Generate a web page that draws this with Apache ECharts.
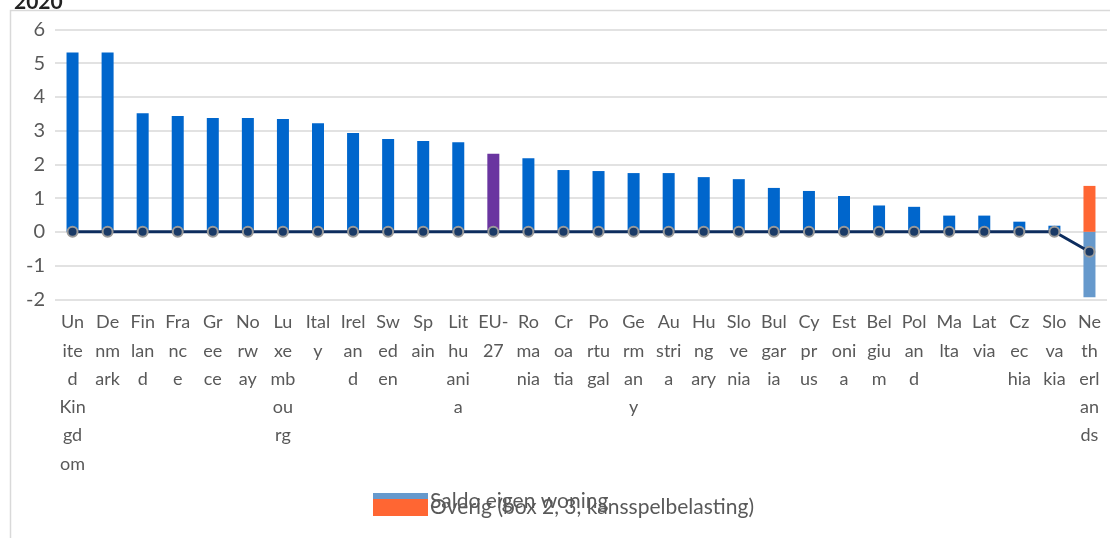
<!doctype html>
<html lang="nl">
<head>
<meta charset="UTF-8">
<title>2020</title>
<script src="https://cdn.jsdelivr.net/npm/echarts@6/dist/echarts.min.js"></script>
<style>
  html, body { margin: 0; padding: 0; background: #fff; }
  #main { width: 1110px; height: 538px; }
</style>
</head>
<body>
<div id="main"></div>
<script type="text/javascript">
// landen (categorieen)
var countries = ['United Kingdom', 'Denmark', 'Finland', 'France', 'Greece', 'Norway', 'Luxembourg', 'Italy',
    'Ireland', 'Sweden', 'Spain', 'Lithuania', 'EU-27', 'Romania', 'Croatia', 'Portugal', 'Germany', 'Austria',
    'Hungary', 'Slovenia', 'Bulgaria', 'Cyprus', 'Estonia', 'Belgium', 'Poland', 'Malta', 'Latvia', 'Czechia',
    'Slovakia', 'Netherlands'];

// asetiketten zoals ze in het plaatje afgebroken zijn
var tickLabels = ['Un\nite\nd\nKin\ngd\nom', 'De\nnm\nark', 'Fin\nlan\nd', 'Fra\nnc\ne', 'Gr\nee\nce', 'No\nrw\nay',
    'Lu\nxe\nmb\nou\nrg', 'Ital\ny', 'Irel\nan\nd', 'Sw\ned\nen', 'Sp\nain', 'Lit\nhu\nani\na', 'EU-\n27',
    'Ro\nma\nnia', 'Cr\noa\ntia', 'Po\nrtu\ngal', 'Ge\nrm\nan\ny', 'Au\nstri\na', 'Hu\nng\nary', 'Slo\nve\nnia',
    'Bul\ngar\nia', 'Cy\npr\nus', 'Est\noni\na', 'Bel\ngiu\nm', 'Pol\nan\nd', 'Ma\nlta', 'Lat\nvia', 'Cz\nec\nhia',
    'Slo\nva\nkia', 'Ne\nth\nerl\nan\nds'];

// totaal per land (blauwe staven)
var totalValues = [5.31, 5.31, 3.51, 3.43, 3.37, 3.37, 3.34, 3.22, 2.93, 2.75, 2.69, 2.65, 2.31, 2.18, 1.83, 1.80,
    1.74, 1.74, 1.62, 1.56, 1.30, 1.21, 1.06, 0.78, 0.74, 0.48, 0.48, 0.30, 0.18, null];

// Nederland opgesplitst
var saldoValues = [null, null, null, null, null, null, null, null, null, null, null, null, null, null, null, null,
    null, null, null, null, null, null, null, null, null, null, null, null, null, -1.94];
var overigValues = [null, null, null, null, null, null, null, null, null, null, null, null, null, null, null, null,
    null, null, null, null, null, null, null, null, null, null, null, null, null, 1.36];

// lijn
var lineValues = [0, 0, 0, 0, 0, 0, 0, 0, 0, 0, 0, 0, 0, 0, 0, 0,
    0, 0, 0, 0, 0, 0, 0, 0, 0, 0, 0, 0, 0, -0.59];

var yTicks = { min: -2, max: 6, interval: 1 };

var myChart = echarts.init(document.getElementById('main'));

var FONT = 'Lato, "Open Sans", sans-serif';
var TXT = '#595959';

var totalData = totalValues.map(function (v, i) {
    if (countries[i] === 'EU-27') {
        return { value: v, itemStyle: { color: '#6a35a0' } };
    }
    return v;
});

var option = {
    animation: false,
    textStyle: { fontFamily: FONT },
    title: {
        text: '2020',
        left: 9,
        top: -13,
        textStyle: { fontSize: 21, fontWeight: 'bold', color: '#222', fontFamily: FONT }
    },
    graphic: [{
        type: 'rect',
        shape: { x: 10.5, y: 10.5, width: 1200, height: 700 },
        style: { fill: null, stroke: '#d9d9d9', lineWidth: 1.5 },
        z: -1
    }],
    legend: [{
        data: ['Saldo eigen woning'],
        left: 373,
        top: 491,
        padding: 0,
        icon: 'rect',
        itemWidth: 55,
        itemHeight: 17,
        itemGap: 0,
        textStyle: { fontSize: 21, color: TXT, fontFamily: FONT, padding: [0, 0, 0, -3] }
    }, {
        data: ['Overig (box 2, 3, kansspelbelasting)'],
        left: 373,
        top: 497,
        padding: 0,
        icon: 'rect',
        itemWidth: 55,
        itemHeight: 17,
        itemGap: 0,
        textStyle: { fontSize: 21, color: TXT, fontFamily: FONT, padding: [0, 0, 0, -3] }
    }],
    grid: {
        left: 55,
        right: 3,
        top: 29.3,
        bottom: 238.7,
        containLabel: false
    },
    xAxis: {
        type: 'category',
        data: countries,
        axisLine: { show: false, onZero: false },
        axisTick: { show: false },
        axisLabel: {
            interval: 0,
            margin: 9,
            fontSize: 18,
            lineHeight: 28.3,
            color: TXT,
            align: 'center',
            verticalAlign: 'top',
            formatter: function (value, idx) {
                return tickLabels[idx];
            }
        }
    },
    yAxis: {
        type: 'value',
        min: yTicks.min,
        max: yTicks.max,
        interval: yTicks.interval,
        axisLine: { show: false },
        axisTick: { show: false },
        axisLabel: { fontSize: 20, color: TXT, margin: 10 },
        splitLine: { lineStyle: { color: '#d9d9d9', width: 1.5 } }
    },
    series: [
        {
            name: 'Totaal',
            type: 'bar',
            stack: 'a',
            barWidth: 12,
            itemStyle: { color: '#0066cc' },
            data: totalData
        },
        {
            name: 'Saldo eigen woning',
            type: 'bar',
            stack: 'a',
            barWidth: 12,
            itemStyle: { color: '#6699cc' },
            data: saldoValues
        },
        {
            name: 'Overig (box 2, 3, kansspelbelasting)',
            type: 'bar',
            stack: 'a',
            barWidth: 12,
            itemStyle: { color: '#ff6633' },
            data: overigValues
        },
        {
            name: 'Lijn',
            type: 'line',
            symbol: 'circle',
            symbolSize: 10,
            z: 5,
            lineStyle: { color: '#0d2d5e', width: 3 },
            itemStyle: { color: '#1a3a66', borderColor: '#9a9a9a', borderWidth: 2 },
            data: lineValues
        }
    ]
};

myChart.setOption(option);
</script>
</body>
</html>
